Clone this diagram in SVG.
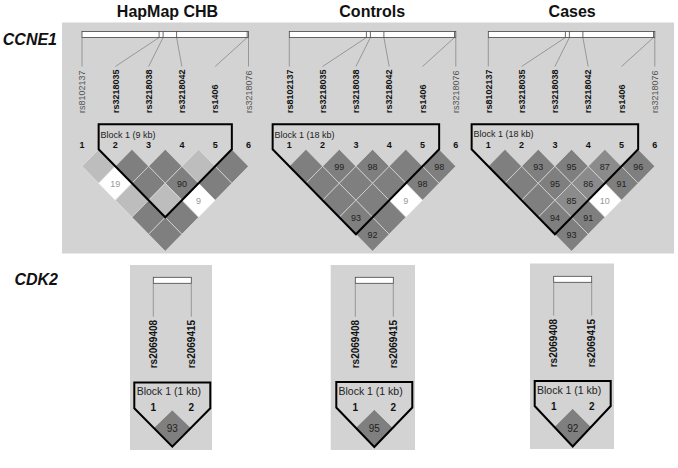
<svg xmlns="http://www.w3.org/2000/svg" xmlns:xlink="http://www.w3.org/1999/xlink" width="678" height="468" viewBox="0 0 678 468">
<style>
text{font-family:"Liberation Sans",Arial,sans-serif;}
.title{font-size:16px;font-weight:bold;fill:#111;text-anchor:middle;}
.gene{font-size:16px;font-weight:bold;font-style:italic;fill:#111;text-anchor:end;}
.panel{fill:#d3d3d3;}
.bar{fill:#fff;stroke:#444;stroke-width:0.8;}
.tick{stroke:#444;stroke-width:0.8;}
.conn{stroke:#888;stroke-width:0.8;fill:none;}
.lb{font-size:9px;font-weight:bold;fill:#111;}
.ln{font-size:9px;fill:#555;}
.lb2{font-size:10px;font-weight:bold;fill:#111;}
.num{font-size:9px;font-weight:bold;fill:#111;text-anchor:middle;}
.num2{font-size:10px;font-weight:bold;fill:#111;text-anchor:middle;}
.blk{font-size:9px;fill:#222;}
.blk2{font-size:10.5px;fill:#222;}
.dk{fill:#7f7f7f;stroke:#e8e8e8;stroke-width:0.6;}
.md{fill:#8b8b8b;stroke:#e8e8e8;stroke-width:0.6;}
.lt{fill:#bdbdbd;stroke:#e8e8e8;stroke-width:0.6;}
.wh{fill:#ffffff;stroke:#e8e8e8;stroke-width:0.6;}
.ct{font-size:9px;fill:#222;text-anchor:middle;}
.cw{font-size:9px;fill:#999;text-anchor:middle;}
.ct2{font-size:10px;fill:#222;text-anchor:middle;}
.outline{fill:none;stroke:#000;stroke-width:2;stroke-linejoin:miter;}
</style>
<defs>
<path id="dm" d="M0,-17 L16.65,0 L0,17 L-16.65,0 Z"/>
</defs>

<g id="panels">
<rect class="panel" x="62" y="22.5" width="612" height="231"/>
<rect class="panel" x="130" y="265" width="82" height="185"/>
<rect class="panel" x="330.7" y="265" width="84.3" height="185"/>
<rect class="panel" x="530" y="263.5" width="84" height="185.5"/>
</g>

<g id="titles">
<text class="title" x="167.5" y="16.5">HapMap CHB</text>
<text class="title" x="372.2" y="16.5">Controls</text>
<text class="title" x="572.2" y="16.5">Cases</text>
<text class="gene" x="57" y="45">CCNE1</text>
<text class="gene" x="58" y="285">CDK2</text>
</g>

<g id="connectors">
<line class="conn" x1="82" y1="37.5" x2="82" y2="66.5"/>
<line class="conn" x1="159.1" y1="37.5" x2="115.3" y2="66.5"/>
<line class="conn" x1="163.1" y1="37.5" x2="148.6" y2="66.5"/>
<line class="conn" x1="176.6" y1="37.5" x2="181.9" y2="66.5"/>
<line class="conn" x1="247.2" y1="37.5" x2="215.2" y2="66.5"/>
<line class="conn" x1="248.5" y1="37.5" x2="248.5" y2="66.5"/>

<line class="conn" x1="289.3" y1="37.5" x2="289.3" y2="66.5"/>
<line class="conn" x1="366.4" y1="37.5" x2="322.6" y2="66.5"/>
<line class="conn" x1="370.4" y1="37.5" x2="355.9" y2="66.5"/>
<line class="conn" x1="383.9" y1="37.5" x2="389.2" y2="66.5"/>
<line class="conn" x1="454.5" y1="37.5" x2="422.5" y2="66.5"/>
<line class="conn" x1="455.8" y1="37.5" x2="455.8" y2="66.5"/>

<line class="conn" x1="488.3" y1="37.5" x2="488.3" y2="66.5"/>
<line class="conn" x1="565.4" y1="37.5" x2="521.6" y2="66.5"/>
<line class="conn" x1="569.4" y1="37.5" x2="554.9" y2="66.5"/>
<line class="conn" x1="582.9" y1="37.5" x2="588.2" y2="66.5"/>
<line class="conn" x1="653.5" y1="37.5" x2="621.5" y2="66.5"/>
<line class="conn" x1="654.8" y1="37.5" x2="654.8" y2="66.5"/>

<line class="conn" x1="153.3" y1="283.3" x2="153.3" y2="316.7"/>
<line class="conn" x1="191.3" y1="283.3" x2="191.3" y2="316.7"/>
<line class="conn" x1="355.3" y1="283.3" x2="355.3" y2="316.7"/>
<line class="conn" x1="393.3" y1="283.3" x2="393.3" y2="316.7"/>
<line class="conn" x1="553.7" y1="282.3" x2="553.7" y2="315.7"/>
<line class="conn" x1="591.7" y1="282.3" x2="591.7" y2="315.7"/>
</g>

<g id="ccne1-hapmap">
<rect class="bar" x="82" y="31.5" width="166.5" height="6"/>
<line class="tick" x1="159.1" y1="31.5" x2="159.1" y2="37.5"/>
<line class="tick" x1="163.1" y1="31.5" x2="163.1" y2="37.5"/>
<line class="tick" x1="176.6" y1="31.5" x2="176.6" y2="37.5"/>
<line class="tick" x1="247.2" y1="31.5" x2="247.2" y2="37.5"/>
<text class="ln" transform="translate(85.2,113) rotate(-90)">rs8102137</text>
<text class="lb" transform="translate(118.5,113) rotate(-90)">rs3218035</text>
<text class="lb" transform="translate(151.8,113) rotate(-90)">rs3218038</text>
<text class="lb" transform="translate(185.1,113) rotate(-90)">rs3218042</text>
<text class="lb" transform="translate(218.4,113) rotate(-90)">rs1406</text>
<text class="ln" transform="translate(251.7,113) rotate(-90)">rs3218076</text>
<text class="num" x="82" y="148.3">1</text>
<text class="num" x="115.3" y="148.3">2</text>
<text class="num" x="148.6" y="148.3">3</text>
<text class="num" x="181.9" y="148.3">4</text>
<text class="num" x="215.2" y="148.3">5</text>
<text class="num" x="248.5" y="148.3">6</text>
<use xlink:href="#dm" class="lt" x="98.65" y="166.3"/>
<use xlink:href="#dm" class="dk" x="131.95" y="166.3"/>
<use xlink:href="#dm" class="dk" x="165.25" y="166.3"/>
<use xlink:href="#dm" class="lt" x="198.55" y="166.3"/>
<use xlink:href="#dm" class="dk" x="231.85" y="166.3"/>
<use xlink:href="#dm" class="wh" x="115.3" y="183.3"/>
<use xlink:href="#dm" class="dk" x="148.6" y="183.3"/>
<use xlink:href="#dm" class="dk" x="181.9" y="183.3"/>
<use xlink:href="#dm" class="dk" x="215.2" y="183.3"/>
<use xlink:href="#dm" class="lt" x="131.95" y="200.3"/>
<use xlink:href="#dm" class="lt" x="165.25" y="200.3"/>
<use xlink:href="#dm" class="wh" x="198.55" y="200.3"/>
<use xlink:href="#dm" class="dk" x="148.6" y="217.3"/>
<use xlink:href="#dm" class="dk" x="181.9" y="217.3"/>
<use xlink:href="#dm" class="dk" x="165.25" y="234.3"/>
<text class="cw" x="115.3" y="186.5">19</text>
<text class="ct" x="181.9" y="186.5">90</text>
<text class="cw" x="198.55" y="203.5">9</text>
<path class="outline" d="M98.65,124.3 L231.85,124.3 L231.85,149.3 L165.25,217.3 L98.65,149.3 Z"/>
<text class="blk" x="100.5" y="137.5">Block 1 (9 kb)</text>
</g>

<g id="ccne1-controls">
<rect class="bar" x="289.3" y="31.5" width="166.5" height="6"/>
<line class="tick" x1="366.4" y1="31.5" x2="366.4" y2="37.5"/>
<line class="tick" x1="370.4" y1="31.5" x2="370.4" y2="37.5"/>
<line class="tick" x1="383.9" y1="31.5" x2="383.9" y2="37.5"/>
<line class="tick" x1="454.5" y1="31.5" x2="454.5" y2="37.5"/>
<text class="lb" transform="translate(292.5,113) rotate(-90)">rs8102137</text>
<text class="lb" transform="translate(325.8,113) rotate(-90)">rs3218035</text>
<text class="lb" transform="translate(359.1,113) rotate(-90)">rs3218038</text>
<text class="lb" transform="translate(392.4,113) rotate(-90)">rs3218042</text>
<text class="lb" transform="translate(425.7,113) rotate(-90)">rs1406</text>
<text class="ln" transform="translate(459,113) rotate(-90)">rs3218076</text>
<text class="num" x="289.3" y="148.3">1</text>
<text class="num" x="322.6" y="148.3">2</text>
<text class="num" x="355.9" y="148.3">3</text>
<text class="num" x="389.2" y="148.3">4</text>
<text class="num" x="422.5" y="148.3">5</text>
<text class="num" x="455.8" y="148.3">6</text>
<use xlink:href="#dm" class="dk" x="305.95" y="166.3"/>
<use xlink:href="#dm" class="dk" x="339.25" y="166.3"/>
<use xlink:href="#dm" class="dk" x="372.55" y="166.3"/>
<use xlink:href="#dm" class="dk" x="405.85" y="166.3"/>
<use xlink:href="#dm" class="dk" x="439.15" y="166.3"/>
<use xlink:href="#dm" class="dk" x="322.6" y="183.3"/>
<use xlink:href="#dm" class="dk" x="355.9" y="183.3"/>
<use xlink:href="#dm" class="dk" x="389.2" y="183.3"/>
<use xlink:href="#dm" class="dk" x="422.5" y="183.3"/>
<use xlink:href="#dm" class="dk" x="339.25" y="200.3"/>
<use xlink:href="#dm" class="dk" x="372.55" y="200.3"/>
<use xlink:href="#dm" class="wh" x="405.85" y="200.3"/>
<use xlink:href="#dm" class="dk" x="355.9" y="217.3"/>
<use xlink:href="#dm" class="dk" x="389.2" y="217.3"/>
<use xlink:href="#dm" class="dk" x="372.55" y="234.3"/>
<text class="ct" x="339.25" y="169.5">99</text>
<text class="ct" x="372.55" y="169.5">98</text>
<text class="ct" x="439.15" y="169.5">98</text>
<text class="ct" x="422.5" y="186.5">98</text>
<text class="cw" x="405.85" y="203.5">9</text>
<text class="ct" x="355.9" y="220.5">93</text>
<text class="ct" x="372.55" y="237.5">92</text>
<path class="outline" d="M272.65,124.3 L439.15,124.3 L439.15,149.3 L355.9,234.3 L272.65,149.3 Z"/>
<text class="blk" x="274.5" y="137.5">Block 1 (18 kb)</text>
</g>

<g id="ccne1-cases">
<rect class="bar" x="488.3" y="31.5" width="166.5" height="6"/>
<line class="tick" x1="565.4" y1="31.5" x2="565.4" y2="37.5"/>
<line class="tick" x1="569.4" y1="31.5" x2="569.4" y2="37.5"/>
<line class="tick" x1="582.9" y1="31.5" x2="582.9" y2="37.5"/>
<line class="tick" x1="653.5" y1="31.5" x2="653.5" y2="37.5"/>
<text class="lb" transform="translate(491.5,113) rotate(-90)">rs8102137</text>
<text class="lb" transform="translate(524.8,113) rotate(-90)">rs3218035</text>
<text class="lb" transform="translate(558.1,113) rotate(-90)">rs3218038</text>
<text class="lb" transform="translate(591.4,113) rotate(-90)">rs3218042</text>
<text class="lb" transform="translate(624.7,113) rotate(-90)">rs1406</text>
<text class="ln" transform="translate(658,113) rotate(-90)">rs3218076</text>
<text class="num" x="488.3" y="148.3">1</text>
<text class="num" x="521.6" y="148.3">2</text>
<text class="num" x="554.9" y="148.3">3</text>
<text class="num" x="588.2" y="148.3">4</text>
<text class="num" x="621.5" y="148.3">5</text>
<text class="num" x="654.8" y="148.3">6</text>
<use xlink:href="#dm" class="dk" x="504.95" y="166.3"/>
<use xlink:href="#dm" class="dk" x="538.25" y="166.3"/>
<use xlink:href="#dm" class="dk" x="571.55" y="166.3"/>
<use xlink:href="#dm" class="md" x="604.85" y="166.3"/>
<use xlink:href="#dm" class="dk" x="638.15" y="166.3"/>
<use xlink:href="#dm" class="dk" x="521.6" y="183.3"/>
<use xlink:href="#dm" class="dk" x="554.9" y="183.3"/>
<use xlink:href="#dm" class="md" x="588.2" y="183.3"/>
<use xlink:href="#dm" class="dk" x="621.5" y="183.3"/>
<use xlink:href="#dm" class="dk" x="538.25" y="200.3"/>
<use xlink:href="#dm" class="md" x="571.55" y="200.3"/>
<use xlink:href="#dm" class="wh" x="604.85" y="200.3"/>
<use xlink:href="#dm" class="dk" x="554.9" y="217.3"/>
<use xlink:href="#dm" class="dk" x="588.2" y="217.3"/>
<use xlink:href="#dm" class="dk" x="571.55" y="234.3"/>
<text class="ct" x="538.25" y="169.5">93</text>
<text class="ct" x="571.55" y="169.5">95</text>
<text class="ct" x="604.85" y="169.5">87</text>
<text class="ct" x="638.15" y="169.5">96</text>
<text class="ct" x="554.9" y="186.5">95</text>
<text class="ct" x="588.2" y="186.5">86</text>
<text class="ct" x="621.5" y="186.5">91</text>
<text class="ct" x="571.55" y="203.5">85</text>
<text class="cw" x="604.85" y="203.5">10</text>
<text class="ct" x="554.9" y="220.5">94</text>
<text class="ct" x="588.2" y="220.5">91</text>
<text class="ct" x="571.55" y="237.5">93</text>
<path class="outline" d="M471.65,124.3 L638.15,124.3 L638.15,149.3 L554.9,234.3 L471.65,149.3 Z"/>
<text class="blk" x="473.5" y="137.2">Block 1 (18 kb)</text>
</g>

<g id="cdk2-hapmap">
<rect class="bar" x="153.3" y="277.3" width="38" height="6"/>
<text class="lb2" transform="translate(156.9,368.3) rotate(-90)">rs2069408</text>
<text class="lb2" transform="translate(194.9,368.3) rotate(-90)">rs2069415</text>
<polygon class="dk" points="172.3,410 191.3,428.3 172.3,446.7 153.3,428.3"/>
<text class="ct2" x="172.3" y="432">93</text>
<path class="outline" d="M134.3,382.5 L210.3,382.5 L210.3,408.3 L172.3,446.7 L134.3,408.3 Z"/>
<text class="blk2" x="136.7" y="395">Block 1 (1 kb)</text>
<text class="num2" x="153.3" y="411">1</text>
<text class="num2" x="191.3" y="411">2</text>
</g>

<g id="cdk2-controls">
<rect class="bar" x="355.3" y="277.3" width="38" height="6"/>
<text class="lb2" transform="translate(358.9,368.3) rotate(-90)">rs2069408</text>
<text class="lb2" transform="translate(396.9,368.3) rotate(-90)">rs2069415</text>
<polygon class="dk" points="374.3,409.5 393.3,428.2 374.3,447 355.3,428.2"/>
<text class="ct2" x="374.3" y="432">95</text>
<path class="outline" d="M336.3,382 L412.3,382 L412.3,407.5 L374.3,447 L336.3,407.5 Z"/>
<text class="blk2" x="338.5" y="394.5">Block 1 (1 kb)</text>
<text class="num2" x="355.3" y="410.5">1</text>
<text class="num2" x="393.3" y="410.5">2</text>
</g>

<g id="cdk2-cases">
<rect class="bar" x="553.7" y="276.3" width="38" height="6"/>
<text class="lb2" transform="translate(557.3,367.3) rotate(-90)">rs2069408</text>
<text class="lb2" transform="translate(595.3,367.3) rotate(-90)">rs2069415</text>
<polygon class="dk" points="572.7,408.5 591.7,427.5 572.7,446.5 553.7,427.5"/>
<text class="ct2" x="572.7" y="431.5">92</text>
<path class="outline" d="M534.7,381 L610.7,381 L610.7,406 L572.7,446.5 L534.7,406 Z"/>
<text class="blk2" x="537" y="393.5">Block 1 (1 kb)</text>
<text class="num2" x="553.7" y="409.5">1</text>
<text class="num2" x="591.7" y="409.5">2</text>
</g>
</svg>
